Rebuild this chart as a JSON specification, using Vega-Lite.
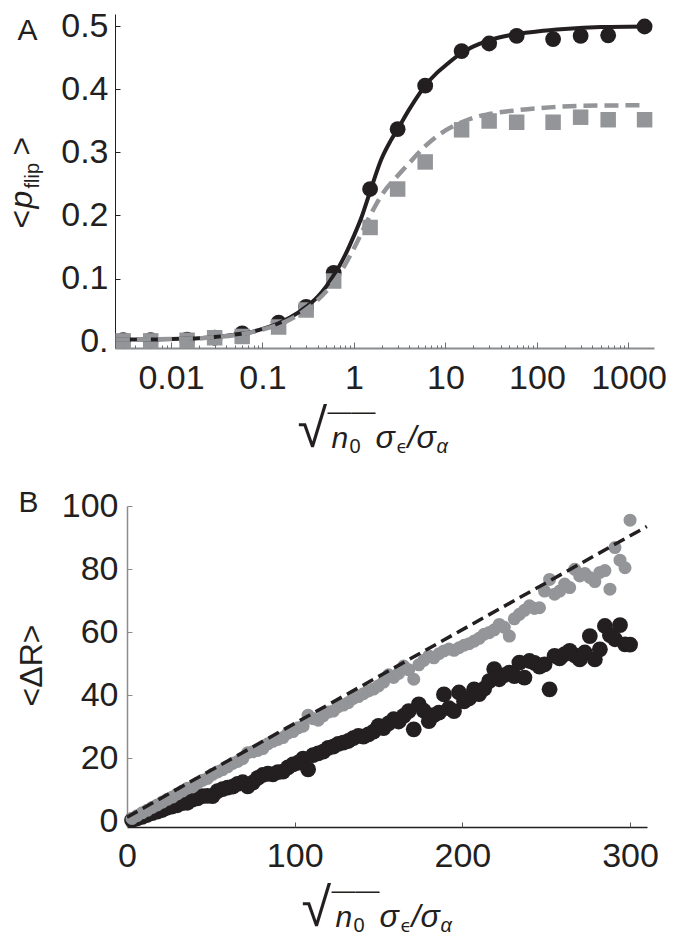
{
 "$schema": "https://vega.github.io/schema/vega-lite/v6.json",
 "background": "white",
 "padding": {"left": 5, "top": 9, "right": 5, "bottom": 0},
 "spacing": 30,
 "config": {
  "view": {"stroke": null},
  "axis": {"labelFont": "Liberation Sans", "titleFont": "Liberation Sans", "labelColor": "#231f20", "titleColor": "#231f20", "titleFontWeight": "normal", "grid": false, "labelFlush": false, "labelOverlap": false, "labelFontSize": 34, "titleAlign": "left", "titleBaseline": "alphabetic"}
 },
 "datasets": {
  "circA": [{"x":0.003,"y":0.002},{"x":0.006,"y":0.002},{"x":0.015,"y":0.003},{"x":0.03,"y":0.006},{"x":0.06,"y":0.013},{"x":0.15,"y":0.03},{"x":0.3,"y":0.055},{"x":0.6,"y":0.109},{"x":1.5,"y":0.242},{"x":3,"y":0.337},{"x":6,"y":0.406},{"x":15,"y":0.461},{"x":30,"y":0.473},{"x":60,"y":0.485},{"x":150,"y":0.48},{"x":300,"y":0.485},{"x":600,"y":0.486},{"x":1500,"y":0.5}],
  "sqA": [{"x":0.003,"y":0.001},{"x":0.006,"y":0.001},{"x":0.015,"y":0.002},{"x":0.03,"y":0.006},{"x":0.06,"y":0.008},{"x":0.15,"y":0.023},{"x":0.3,"y":0.05},{"x":0.6,"y":0.096},{"x":1.5,"y":0.181},{"x":3,"y":0.242},{"x":6,"y":0.285},{"x":15,"y":0.336},{"x":30,"y":0.35},{"x":60,"y":0.348},{"x":150,"y":0.348},{"x":300,"y":0.356},{"x":600,"y":0.352},{"x":1500,"y":0.352}],
  "lineA1": [{"x":0.0025,"y":0.003},{"x":0.005,"y":0.003},{"x":0.01,"y":0.004},{"x":0.02,"y":0.005},{"x":0.03,"y":0.007},{"x":0.05,"y":0.011},{"x":0.07,"y":0.014},{"x":0.1,"y":0.02},{"x":0.15,"y":0.029},{"x":0.2,"y":0.038},{"x":0.3,"y":0.055},{"x":0.4,"y":0.071},{"x":0.5,"y":0.088},{"x":0.6,"y":0.105},{"x":0.7,"y":0.121},{"x":0.8,"y":0.137},{"x":1,"y":0.168},{"x":1.2,"y":0.196},{"x":1.5,"y":0.238},{"x":2,"y":0.29},{"x":2.5,"y":0.318},{"x":3,"y":0.337},{"x":4,"y":0.368},{"x":5,"y":0.39},{"x":6,"y":0.406},{"x":8,"y":0.426},{"x":10,"y":0.438},{"x":15,"y":0.458},{"x":20,"y":0.468},{"x":30,"y":0.478},{"x":50,"y":0.486},{"x":100,"y":0.492},{"x":200,"y":0.496},{"x":500,"y":0.499},{"x":1650,"y":0.5}],
  "lineA2": [{"x":0.0025,"y":0.003},{"x":0.01,"y":0.004},{"x":0.02,"y":0.005},{"x":0.03,"y":0.007},{"x":0.05,"y":0.01},{"x":0.1,"y":0.019},{"x":0.15,"y":0.027},{"x":0.2,"y":0.035},{"x":0.3,"y":0.051},{"x":0.5,"y":0.08},{"x":0.7,"y":0.108},{"x":1,"y":0.148},{"x":1.5,"y":0.2},{"x":2,"y":0.232},{"x":3,"y":0.263},{"x":4,"y":0.283},{"x":6,"y":0.31},{"x":10,"y":0.335},{"x":15,"y":0.348},{"x":20,"y":0.355},{"x":30,"y":0.361},{"x":60,"y":0.367},{"x":150,"y":0.372},{"x":300,"y":0.374},{"x":1550,"y":0.375}],
  "grayB": [{"x":3,"y":0.8},{"x":6,"y":1.7},{"x":9,"y":2.6},{"x":12,"y":3.4},{"x":15,"y":4.3},{"x":18,"y":5.1},{"x":21,"y":6.0},{"x":24,"y":6.9},{"x":27,"y":7.6},{"x":30,"y":8.6},{"x":33,"y":9.5},{"x":36,"y":10.4},{"x":39,"y":10.8},{"x":42,"y":12.0},{"x":45,"y":12.9},{"x":48,"y":13.5},{"x":51,"y":14.8},{"x":54,"y":15.6},{"x":57,"y":16.3},{"x":60,"y":17.2},{"x":63,"y":18.3},{"x":66,"y":18.9},{"x":69,"y":19.8},{"x":72,"y":21.7},{"x":75,"y":22.0},{"x":78,"y":22.4},{"x":81,"y":23.0},{"x":84,"y":24.5},{"x":87,"y":25.3},{"x":90,"y":25.9},{"x":93,"y":26.5},{"x":96,"y":27.9},{"x":99,"y":28.4},{"x":102,"y":29.6},{"x":105,"y":30.1},{"x":108,"y":33.6},{"x":111,"y":32.5},{"x":114,"y":32.0},{"x":117,"y":33.4},{"x":120,"y":34.6},{"x":123,"y":34.9},{"x":126,"y":36.3},{"x":129,"y":36.8},{"x":132,"y":37.6},{"x":135,"y":38.9},{"x":138,"y":39.5},{"x":141,"y":40.4},{"x":144,"y":41.3},{"x":147,"y":41.9},{"x":150,"y":42.9},{"x":153,"y":44.1},{"x":156,"y":46.4},{"x":159,"y":45.6},{"x":162,"y":46.9},{"x":165,"y":49.2},{"x":168,"y":48.0},{"x":171,"y":45.0},{"x":174,"y":49.6},{"x":177,"y":51.0},{"x":180,"y":52.4},{"x":183,"y":51.8},{"x":186,"y":53.1},{"x":189,"y":54.0},{"x":192,"y":54.6},{"x":195,"y":54.2},{"x":198,"y":55.0},{"x":201,"y":55.8},{"x":204,"y":56.3},{"x":207,"y":57.1},{"x":210,"y":58.0},{"x":213,"y":59.3},{"x":216,"y":59.8},{"x":219,"y":60.7},{"x":222,"y":62.4},{"x":225,"y":61.5},{"x":228,"y":58.7},{"x":231,"y":64.2},{"x":234,"y":65.6},{"x":237,"y":66.9},{"x":240,"y":68.3},{"x":243,"y":67.5},{"x":246,"y":67.7},{"x":249,"y":73.0},{"x":252,"y":76.7},{"x":255,"y":72.0},{"x":258,"y":73.0},{"x":261,"y":75.2},{"x":264,"y":74.1},{"x":267,"y":79.9},{"x":270,"y":77.8},{"x":273,"y":78.6},{"x":276,"y":77.3},{"x":279,"y":76.0},{"x":282,"y":78.9},{"x":285,"y":79.5},{"x":288,"y":73.6},{"x":291,"y":86.8},{"x":294,"y":82.8},{"x":297,"y":80.4},{"x":300,"y":95.5}],
  "blackB": [{"x":3,"y":0.3},{"x":6,"y":0.8},{"x":9,"y":1.3},{"x":12,"y":1.9},{"x":15,"y":2.5},{"x":18,"y":3.0},{"x":21,"y":3.5},{"x":24,"y":4.2},{"x":27,"y":4.6},{"x":30,"y":5.0},{"x":33,"y":5.7},{"x":36,"y":5.8},{"x":39,"y":6.8},{"x":42,"y":7.2},{"x":45,"y":7.9},{"x":48,"y":8.0},{"x":51,"y":7.9},{"x":54,"y":9.5},{"x":57,"y":10.1},{"x":60,"y":10.6},{"x":63,"y":10.9},{"x":66,"y":11.8},{"x":69,"y":12.3},{"x":72,"y":11.0},{"x":75,"y":12.2},{"x":78,"y":13.7},{"x":81,"y":14.6},{"x":84,"y":15.0},{"x":87,"y":14.8},{"x":90,"y":15.5},{"x":93,"y":15.7},{"x":96,"y":17.0},{"x":99,"y":18.0},{"x":102,"y":18.5},{"x":105,"y":19.8},{"x":108,"y":16.4},{"x":111,"y":20.9},{"x":114,"y":21.5},{"x":117,"y":22.0},{"x":120,"y":23.2},{"x":123,"y":23.6},{"x":126,"y":24.5},{"x":129,"y":24.9},{"x":132,"y":25.4},{"x":135,"y":26.3},{"x":138,"y":27.0},{"x":141,"y":26.8},{"x":144,"y":27.5},{"x":147,"y":28.4},{"x":150,"y":30.2},{"x":153,"y":29.5},{"x":156,"y":31.0},{"x":159,"y":32.3},{"x":162,"y":31.6},{"x":165,"y":33.4},{"x":168,"y":34.9},{"x":171,"y":29.1},{"x":174,"y":37.0},{"x":177,"y":35.0},{"x":180,"y":31.7},{"x":183,"y":33.6},{"x":186,"y":34.4},{"x":189,"y":40.2},{"x":192,"y":35.8},{"x":195,"y":34.9},{"x":198,"y":40.8},{"x":201,"y":38.0},{"x":204,"y":38.9},{"x":207,"y":41.8},{"x":210,"y":40.3},{"x":213,"y":42.0},{"x":216,"y":44.4},{"x":219,"y":48.2},{"x":222,"y":45.0},{"x":225,"y":46.3},{"x":228,"y":47.1},{"x":231,"y":46.0},{"x":234,"y":50.3},{"x":237,"y":45.5},{"x":240,"y":50.8},{"x":243,"y":50.2},{"x":246,"y":49.0},{"x":249,"y":49.7},{"x":252,"y":41.8},{"x":255,"y":52.4},{"x":258,"y":51.6},{"x":261,"y":53.0},{"x":264,"y":54.0},{"x":267,"y":52.6},{"x":270,"y":51.3},{"x":273,"y":53.5},{"x":276,"y":58.7},{"x":279,"y":51.3},{"x":282,"y":54.5},{"x":285,"y":61.9},{"x":288,"y":59.0},{"x":291,"y":57.7},{"x":294,"y":62.2},{"x":297,"y":56.1},{"x":300,"y":56.0}],
  "lineB": [{"x":0,"y":1.2},{"x":310,"y":93.5}]
 },
 "vconcat": [
  {
   "width": 539, "height": 334,
   "resolve": {"axis": {"x": "independent", "y": "independent"}},
   "layer": [
    {"data": {"name": "circA"}, "mark": {"type": "point", "shape": "circle", "filled": true, "size": 250, "color": "#231f20", "opacity": 1},
     "encoding": {
      "x": {"field": "x", "type": "quantitative", "scale": {"type": "log", "domain": [0.002443, 1901], "nice": false}, "axis": {"orient": "bottom", "labels": false, "ticks": false, "domain": false, "title": "√", "titleX": 182, "titleY": 98, "titleFontSize": 54}},
      "y": {"field": "y", "type": "quantitative", "scale": {"domain": [-0.0103, 0.5198], "nice": false, "zero": false}, "axis": {"orient": "left", "labels": false, "ticks": false, "domain": false, "title": "p", "titleFontStyle": "italic", "titleAngle": -90, "titleX": -84, "titleY": 194, "titleFontSize": 32}}
     }},
    {"data": {"name": "sqA"}, "mark": {"type": "point", "shape": "square", "filled": true, "size": 240, "color": "#939598", "opacity": 1},
     "encoding": {
      "x": {"field": "x", "type": "quantitative", "scale": {"type": "log", "domain": [0.002443, 1901], "nice": false}, "axis": {"orient": "bottom", "labels": false, "ticks": false, "domain": false, "title": "——", "titleX": 212, "titleY": 70, "titleFontSize": 24}},
      "y": {"field": "y", "type": "quantitative", "scale": {"domain": [-0.0103, 0.5198], "nice": false, "zero": false}, "axis": {"orient": "left", "labels": false, "ticks": false, "domain": false, "title": "flip", "titleAngle": -90, "titleX": -77, "titleY": 174, "titleFontSize": 20}}
     }},
    {"data": {"name": "lineA1"}, "mark": {"type": "line", "color": "#231f20", "strokeWidth": 4, "interpolate": "monotone"},
     "encoding": {
      "x": {"field": "x", "type": "quantitative", "scale": {"type": "log", "domain": [0.002443, 1901], "nice": false}, "axis": {"orient": "bottom", "values": [0.01, 0.1, 1, 10, 100, 1000], "format": "~g", "labelPadding": 13, "ticks": false, "domain": true, "domainColor": "#8a8c8e", "domainWidth": 2, "title": null}},
      "y": {"field": "y", "type": "quantitative", "scale": {"domain": [-0.0103, 0.5198], "nice": false, "zero": false}, "axis": {"orient": "left", "values": [0, 0.1, 0.2, 0.3, 0.4, 0.5], "labelExpr": "datum.value == 0 ? '0.' : format(datum.value, '.1f')", "labelPadding": 7, "ticks": false, "domain": true, "domainColor": "#231f20", "domainWidth": 1, "title": "A", "titleAngle": 0, "titleX": -98, "titleY": 25, "titleFontSize": 30}}
     }},
    {"data": {"name": "lineA2"}, "mark": {"type": "line", "color": "#939598", "strokeWidth": 4.5, "strokeDash": [14, 7], "interpolate": "monotone"},
     "encoding": {
      "x": {"field": "x", "type": "quantitative", "scale": {"type": "log", "domain": [0.002443, 1901], "nice": false}, "axis": {"orient": "bottom", "values": [0.01, 0.1, 1, 10, 100, 1000], "labels": false, "domain": false, "ticks": true, "tickSize": -6, "tickColor": "#6d6e71", "tickWidth": 1, "title": null}},
      "y": {"field": "y", "type": "quantitative", "scale": {"domain": [-0.0103, 0.5198], "nice": false, "zero": false}, "axis": {"orient": "left", "values": [0, 0.1, 0.2, 0.3, 0.4, 0.5], "labels": false, "domain": false, "ticks": true, "tickSize": -5, "tickColor": "#231f20", "tickWidth": 1, "title": null}}
     }},
    {"data": {"name": "circA"}, "mark": {"type": "point", "opacity": 0},
     "encoding": {
      "x": {"field": "x", "type": "quantitative", "scale": {"type": "log", "domain": [0.002443, 1901], "nice": false}, "axis": {"orient": "bottom", "values": [0.003,0.004,0.005,0.006,0.007,0.008,0.009,0.02,0.03,0.04,0.05,0.06,0.07,0.08,0.09,0.2,0.3,0.4,0.5,0.6,0.7,0.8,0.9,2,3,4,5,6,7,8,9,20,30,40,50,60,70,80,90,200,300,400,500,600,700,800,900], "labels": false, "domain": false, "ticks": true, "tickSize": -3, "tickColor": "#6d6e71", "tickWidth": 1, "title": null}},
      "y": {"field": "y", "type": "quantitative", "scale": {"domain": [-0.0103, 0.5198], "nice": false, "zero": false}, "axis": {"orient": "left", "labels": false, "ticks": false, "domain": false, "title": "<", "titleAngle": -90, "titleX": -84, "titleY": 214, "titleFontSize": 32}}
     }},
    {"data": {"name": "circA"}, "mark": {"type": "point", "opacity": 0},
     "encoding": {
      "x": {"field": "x", "type": "quantitative", "scale": {"type": "log", "domain": [0.002443, 1901], "nice": false}, "axis": {"orient": "bottom", "labels": false, "ticks": false, "domain": false, "title": "n", "titleFontStyle": "italic", "titleX": 216, "titleY": 99, "titleFontSize": 30}},
      "y": {"field": "y", "type": "quantitative", "scale": {"domain": [-0.0103, 0.5198], "nice": false, "zero": false}, "axis": {"orient": "left", "labels": false, "ticks": false, "domain": false, "title": ">", "titleAngle": -90, "titleX": -84, "titleY": 141, "titleFontSize": 32}}
     }},
    {"data": {"name": "circA"}, "mark": {"type": "point", "opacity": 0},
     "encoding": {
      "x": {"field": "x", "type": "quantitative", "scale": {"type": "log", "domain": [0.002443, 1901], "nice": false}, "axis": {"orient": "bottom", "labels": false, "ticks": false, "domain": false, "title": "0", "titleX": 234, "titleY": 104, "titleFontSize": 20}},
      "y": {"field": "y", "type": "quantitative", "scale": {"domain": [-0.0103, 0.5198], "nice": false, "zero": false}, "axis": null}
     }},
    {"data": {"name": "circA"}, "mark": {"type": "point", "opacity": 0},
     "encoding": {
      "x": {"field": "x", "type": "quantitative", "scale": {"type": "log", "domain": [0.002443, 1901], "nice": false}, "axis": {"orient": "bottom", "labels": false, "ticks": false, "domain": false, "title": "σ", "titleFontStyle": "italic", "titleX": 260, "titleY": 99, "titleFontSize": 32}},
      "y": {"field": "y", "type": "quantitative", "scale": {"domain": [-0.0103, 0.5198], "nice": false, "zero": false}, "axis": null}
     }},
    {"data": {"name": "circA"}, "mark": {"type": "point", "opacity": 0},
     "encoding": {
      "x": {"field": "x", "type": "quantitative", "scale": {"type": "log", "domain": [0.002443, 1901], "nice": false}, "axis": {"orient": "bottom", "labels": false, "ticks": false, "domain": false, "title": "ϵ", "titleFont": "DejaVu Sans", "titleX": 281, "titleY": 104, "titleFontSize": 18}},
      "y": {"field": "y", "type": "quantitative", "scale": {"domain": [-0.0103, 0.5198], "nice": false, "zero": false}, "axis": null}
     }},
    {"data": {"name": "circA"}, "mark": {"type": "point", "opacity": 0},
     "encoding": {
      "x": {"field": "x", "type": "quantitative", "scale": {"type": "log", "domain": [0.002443, 1901], "nice": false}, "axis": {"orient": "bottom", "labels": false, "ticks": false, "domain": false, "title": "/σ", "titleFontStyle": "italic", "titleX": 292, "titleY": 99, "titleFontSize": 32}},
      "y": {"field": "y", "type": "quantitative", "scale": {"domain": [-0.0103, 0.5198], "nice": false, "zero": false}, "axis": null}
     }},
    {"data": {"name": "circA"}, "mark": {"type": "point", "opacity": 0},
     "encoding": {
      "x": {"field": "x", "type": "quantitative", "scale": {"type": "log", "domain": [0.002443, 1901], "nice": false}, "axis": {"orient": "bottom", "labels": false, "ticks": false, "domain": false, "title": "α", "titleFontStyle": "italic", "titleX": 321, "titleY": 104, "titleFontSize": 20}},
      "y": {"field": "y", "type": "quantitative", "scale": {"domain": [-0.0103, 0.5198], "nice": false, "zero": false}, "axis": null}
     }}
   ]
  },
  {
   "width": 532, "height": 321,
   "resolve": {"axis": {"x": "independent", "y": "independent"}},
   "layer": [
    {"data": {"name": "blackB"}, "mark": {"type": "point", "shape": "circle", "filled": true, "size": 250, "color": "#231f20", "opacity": 1},
     "encoding": {
      "x": {"field": "x", "type": "quantitative", "scale": {"domain": [0, 310.1], "range": [12, 532], "nice": false, "zero": false}, "axis": {"orient": "bottom", "values": [0, 100, 200, 300], "labelPadding": 12, "ticks": false, "domain": true, "domainColor": "#231f20", "domainWidth": 1.5, "title": null}},
      "y": {"field": "y", "type": "quantitative", "scale": {"domain": [-1.9, 100], "nice": false, "zero": false}, "axis": {"orient": "left", "offset": -12, "values": [0, 20, 40, 60, 80, 100], "labelPadding": 9, "ticks": false, "domain": true, "domainColor": "#8a8c8e", "domainWidth": 1.5, "title": "B", "titleAngle": 0, "titleX": -109, "titleY": 5, "titleFontSize": 30}}
     }},
    {"data": {"name": "grayB"}, "mark": {"type": "point", "shape": "circle", "filled": true, "size": 170, "color": "#939598", "opacity": 1},
     "encoding": {
      "x": {"field": "x", "type": "quantitative", "scale": {"domain": [0, 310.1], "range": [12, 532], "nice": false, "zero": false}, "axis": {"orient": "bottom", "values": [100, 200, 300], "labels": false, "domain": false, "ticks": true, "tickSize": -5, "tickColor": "#555555", "tickWidth": 1, "title": null}},
      "y": {"field": "y", "type": "quantitative", "scale": {"domain": [-1.9, 100], "nice": false, "zero": false}, "axis": {"orient": "left", "offset": -12, "values": [20, 40, 60, 80, 100], "labels": false, "domain": false, "ticks": true, "tickSize": -5, "tickColor": "#8a8c8e", "tickWidth": 1, "title": null}}
     }},
    {"data": {"name": "lineB"}, "mark": {"type": "line", "color": "#231f20", "strokeWidth": 3.5, "strokeDash": [12, 6]},
     "encoding": {
      "x": {"field": "x", "type": "quantitative", "scale": {"domain": [0, 310.1], "range": [12, 532], "nice": false, "zero": false}, "axis": {"orient": "bottom", "labels": false, "ticks": false, "domain": false, "title": "√", "titleX": 186, "titleY": 98, "titleFontSize": 54}},
      "y": {"field": "y", "type": "quantitative", "scale": {"domain": [-1.9, 100], "nice": false, "zero": false}, "axis": {"orient": "left", "labels": false, "ticks": false, "domain": false, "title": "<ΔR>", "titleAngle": -90, "titleAlign": "center", "titleX": -74, "titleY": 159, "titleFontSize": 32}}
     }},
    {"data": {"name": "grayB"}, "mark": {"type": "point", "opacity": 0},
     "encoding": {
      "x": {"field": "x", "type": "quantitative", "scale": {"domain": [0, 310.1], "range": [12, 532], "nice": false, "zero": false}, "axis": {"orient": "bottom", "labels": false, "ticks": false, "domain": false, "title": "——", "titleX": 216, "titleY": 70, "titleFontSize": 24}},
      "y": {"field": "y", "type": "quantitative", "scale": {"domain": [-1.9, 100], "nice": false, "zero": false}, "axis": null}
     }},
    {"data": {"name": "grayB"}, "mark": {"type": "point", "opacity": 0},
     "encoding": {
      "x": {"field": "x", "type": "quantitative", "scale": {"domain": [0, 310.1], "range": [12, 532], "nice": false, "zero": false}, "axis": {"orient": "bottom", "labels": false, "ticks": false, "domain": false, "title": "n", "titleFontStyle": "italic", "titleX": 220, "titleY": 99, "titleFontSize": 30}},
      "y": {"field": "y", "type": "quantitative", "scale": {"domain": [-1.9, 100], "nice": false, "zero": false}, "axis": null}
     }},
    {"data": {"name": "grayB"}, "mark": {"type": "point", "opacity": 0},
     "encoding": {
      "x": {"field": "x", "type": "quantitative", "scale": {"domain": [0, 310.1], "range": [12, 532], "nice": false, "zero": false}, "axis": {"orient": "bottom", "labels": false, "ticks": false, "domain": false, "title": "0", "titleX": 238, "titleY": 104, "titleFontSize": 20}},
      "y": {"field": "y", "type": "quantitative", "scale": {"domain": [-1.9, 100], "nice": false, "zero": false}, "axis": null}
     }},
    {"data": {"name": "grayB"}, "mark": {"type": "point", "opacity": 0},
     "encoding": {
      "x": {"field": "x", "type": "quantitative", "scale": {"domain": [0, 310.1], "range": [12, 532], "nice": false, "zero": false}, "axis": {"orient": "bottom", "labels": false, "ticks": false, "domain": false, "title": "σ", "titleFontStyle": "italic", "titleX": 264, "titleY": 99, "titleFontSize": 32}},
      "y": {"field": "y", "type": "quantitative", "scale": {"domain": [-1.9, 100], "nice": false, "zero": false}, "axis": null}
     }},
    {"data": {"name": "grayB"}, "mark": {"type": "point", "opacity": 0},
     "encoding": {
      "x": {"field": "x", "type": "quantitative", "scale": {"domain": [0, 310.1], "range": [12, 532], "nice": false, "zero": false}, "axis": {"orient": "bottom", "labels": false, "ticks": false, "domain": false, "title": "ϵ", "titleFont": "DejaVu Sans", "titleX": 285, "titleY": 104, "titleFontSize": 18}},
      "y": {"field": "y", "type": "quantitative", "scale": {"domain": [-1.9, 100], "nice": false, "zero": false}, "axis": null}
     }},
    {"data": {"name": "grayB"}, "mark": {"type": "point", "opacity": 0},
     "encoding": {
      "x": {"field": "x", "type": "quantitative", "scale": {"domain": [0, 310.1], "range": [12, 532], "nice": false, "zero": false}, "axis": {"orient": "bottom", "labels": false, "ticks": false, "domain": false, "title": "/σ", "titleFontStyle": "italic", "titleX": 296, "titleY": 99, "titleFontSize": 32}},
      "y": {"field": "y", "type": "quantitative", "scale": {"domain": [-1.9, 100], "nice": false, "zero": false}, "axis": null}
     }},
    {"data": {"name": "grayB"}, "mark": {"type": "point", "opacity": 0},
     "encoding": {
      "x": {"field": "x", "type": "quantitative", "scale": {"domain": [0, 310.1], "range": [12, 532], "nice": false, "zero": false}, "axis": {"orient": "bottom", "labels": false, "ticks": false, "domain": false, "title": "α", "titleFontStyle": "italic", "titleX": 325, "titleY": 104, "titleFontSize": 20}},
      "y": {"field": "y", "type": "quantitative", "scale": {"domain": [-1.9, 100], "nice": false, "zero": false}, "axis": null}
     }}
   ]
  }
 ]
}
